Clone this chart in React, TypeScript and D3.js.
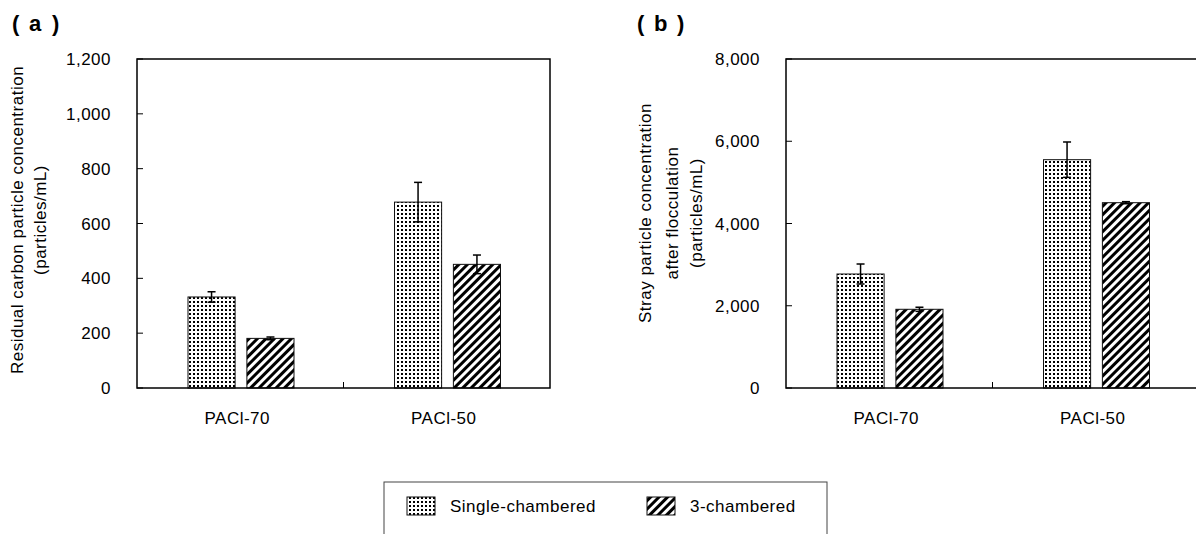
import React, { useRef, useEffect } from 'react';
import * as d3 from 'd3';

const categories = ['PACl-70', 'PACl-50'];
const series = ['Single-chambered', '3-chambered'];

// (a) residual carbon particle concentration
const residualSingle = [332, 678];
const residualSingleErr = [19, 72];
const residualThree = [181, 451];
const residualThreeErr = [5, 34];
const residualTicks = [0, 200, 400, 600, 800, 1000, 1200];

// (b) stray particle concentration after flocculation
const straySingle = [2772, 5552];
const straySingleErr = [243, 430];
const strayThree = [1914, 4506];
const strayThreeErr = [50, 25];
const strayTicks = [0, 2000, 4000, 6000, 8000];

const FONT = "'Liberation Sans', Arial, sans-serif";

const App = () => {
  const ref = useRef<SVGSVGElement>(null);

  useEffect(() => {
    const svg = d3.select(ref.current);
    svg.selectAll('*').remove();

    const defs = svg.append('defs');
    const dots = defs.append('pattern')
      .attr('id', 'dots')
      .attr('patternUnits', 'userSpaceOnUse')
      .attr('width', 4).attr('height', 4);
    dots.append('rect').attr('width', 4).attr('height', 4).attr('fill', '#fff');
    dots.append('rect').attr('x', 1).attr('y', 1).attr('width', 2).attr('height', 2).attr('fill', '#000');

    const hatch = defs.append('pattern')
      .attr('id', 'hatch')
      .attr('patternUnits', 'userSpaceOnUse')
      .attr('width', 6).attr('height', 6)
      .attr('patternTransform', 'rotate(45)');
    hatch.append('rect').attr('width', 6).attr('height', 6).attr('fill', '#fff');
    hatch.append('rect').attr('width', 3).attr('height', 6).attr('fill', '#000');

    const fills = ['url(#dots)', 'url(#hatch)'];

    const top = 59, bottom = 388;

    const txt = (sel: any) => sel
      .attr('font-family', FONT)
      .attr('font-size', 17)
      .attr('letter-spacing', 0.5);

    function panel(opts: any) {
      const g = svg.append('g');
      const x = d3.scaleBand().domain(categories).range([opts.left, opts.left + 413]);
      const xs = d3.scaleBand().domain(series).range([51, 157]).paddingInner(0.2);
      const y = d3.scaleLinear().domain(opts.domain).range([bottom, top]);

      // panel label
      const lab = g.append('text')
        .attr('y', 31)
        .attr('font-family', FONT)
        .attr('font-weight', 'bold')
        .attr('font-size', 22);
      lab.append('tspan').attr('x', opts.labelX).text('(');
      lab.append('tspan').attr('x', opts.labelX + 17).text(opts.label);
      lab.append('tspan').attr('x', opts.labelX + 40).text(')');

      // bars
      const rows = categories.map((c, i) => series.map((s, j) => ({
        c, s, j, v: opts.values[j][i], e: opts.errors[j][i]
      }))).flat();

      g.selectAll('rect.bar')
        .data(rows)
        .enter().append('rect')
        .attr('class', 'bar')
        .attr('x', d => (x(d.c) as number) + (xs(d.s) as number))
        .attr('width', xs.bandwidth())
        .attr('y', d => y(d.v))
        .attr('height', d => bottom - y(d.v))
        .attr('fill', d => fills[d.j])
        .attr('stroke', '#111')
        .attr('stroke-width', 1);

      // error bars
      const eb = g.selectAll('g.err')
        .data(rows)
        .enter().append('g')
        .attr('class', 'err')
        .attr('stroke', '#000')
        .attr('stroke-width', 1.5);
      const cx = (d: any) => (x(d.c) as number) + (xs(d.s) as number) + xs.bandwidth() / 2;
      eb.append('line')
        .attr('x1', cx).attr('x2', cx)
        .attr('y1', d => y(d.v + d.e)).attr('y2', d => y(d.v - d.e));
      eb.append('line')
        .attr('x1', d => cx(d) - 4).attr('x2', d => cx(d) + 4)
        .attr('y1', d => y(d.v + d.e)).attr('y2', d => y(d.v + d.e));
      eb.append('line')
        .attr('x1', d => cx(d) - 4).attr('x2', d => cx(d) + 4)
        .attr('y1', d => y(d.v - d.e)).attr('y2', d => y(d.v - d.e));

      // frame
      g.append('rect')
        .attr('x', opts.left).attr('y', top)
        .attr('width', 413).attr('height', bottom - top)
        .attr('fill', 'none').attr('stroke', '#000').attr('stroke-width', 1.5);

      // y ticks (inward)
      g.selectAll('line.yt')
        .data(opts.ticks)
        .enter().append('line')
        .attr('x1', opts.left).attr('x2', opts.left + 6)
        .attr('y1', (d: number) => y(d)).attr('y2', (d: number) => y(d))
        .attr('stroke', '#000').attr('stroke-width', 1);
      g.selectAll('text.yt')
        .data(opts.ticks)
        .enter().append('text')
        .attr('x', opts.left - 26)
        .attr('y', (d: number) => y(d))
        .attr('dy', '0.36em')
        .attr('text-anchor', 'end')
        .call(txt)
        .text((d: number) => d3.format(',')(d));

      // x tick between categories
      const mid = x(categories[1]) as number;
      g.append('line')
        .attr('x1', mid).attr('x2', mid)
        .attr('y1', bottom).attr('y2', bottom - 6)
        .attr('stroke', '#000').attr('stroke-width', 1);

      g.selectAll('text.xt')
        .data(categories)
        .enter().append('text')
        .attr('x', d => (x(d) as number) + x.bandwidth() / 2 - 3)
        .attr('y', 418)
        .attr('dy', '0.36em')
        .attr('text-anchor', 'middle')
        .call(txt)
        .text(d => d);

      // y title
      opts.title.forEach((t: string, i: number) => {
        g.append('text')
          .attr('transform', `translate(${opts.titleX[i]},${opts.titleY}) rotate(-90)`)
          .attr('dy', '0.36em')
          .attr('text-anchor', 'middle')
          .call(txt)
          .text(t);
      });
    }

    panel({
      left: 137, label: 'a', labelX: 12, domain: [0, 1200], ticks: residualTicks,
      values: [residualSingle, residualThree], errors: [residualSingleErr, residualThreeErr],
      title: ['Residual carbon particle concentration', '(particles/mL)'],
      titleX: [17, 40], titleY: 220
    });
    panel({
      left: 786, label: 'b', labelX: 637, domain: [0, 8000], ticks: strayTicks,
      values: [straySingle, strayThree], errors: [straySingleErr, strayThreeErr],
      title: ['Stray particle concentration', 'after flocculation', '(particles/mL)'],
      titleX: [645, 672, 696], titleY: 213
    });

    // legend
    const lg = svg.append('g');
    lg.append('rect')
      .attr('x', 384).attr('y', 482).attr('width', 443).attr('height', 70)
      .attr('fill', '#fff').attr('stroke', '#444').attr('stroke-width', 1);
    const lx = [407, 647];
    series.forEach((s, i) => {
      lg.append('rect')
        .attr('x', lx[i]).attr('y', 497).attr('width', 28).attr('height', 18)
        .attr('fill', fills[i]).attr('stroke', '#111').attr('stroke-width', 1);
      lg.append('text')
        .attr('x', lx[i] + 43).attr('y', 506)
        .attr('dy', '0.36em')
        .call(txt)
        .text(s);
    });
  }, []);

  return <svg ref={ref} width={1196} height={534} style={{ position: 'absolute', left: 0, top: 0, background: '#fff' }} />;
};

export default App;
